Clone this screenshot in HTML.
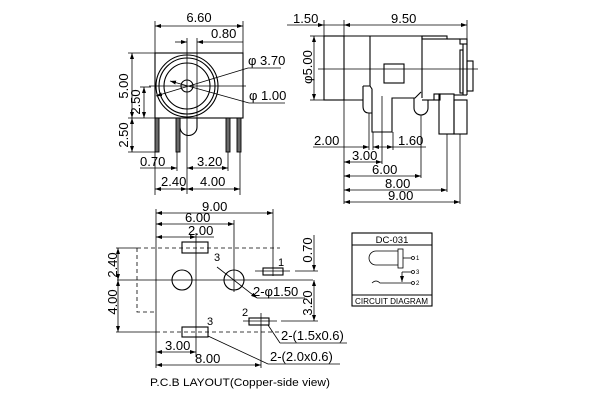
<!DOCTYPE html>
<html><head><meta charset="utf-8"><style>
html,body{margin:0;padding:0;background:#fff;width:600px;height:400px;overflow:hidden}
svg{display:block}
text{font-family:"Liberation Sans",Arial,sans-serif;font-size:13px;fill:#000}
</style></head><body>
<svg width="600" height="400" viewBox="0 0 600 400" xmlns="http://www.w3.org/2000/svg">
<defs>
<marker id="a" viewBox="0 0 6 4" refX="6" refY="2" markerWidth="6" markerHeight="4" markerUnits="userSpaceOnUse" orient="auto-start-reverse"><path d="M0,0 L6,2 L0,4 z" fill="#000"/></marker>
</defs>
<rect width="600" height="400" fill="#fff"/>
<g fill="none" stroke="#000" stroke-width="1.1">
<!-- TOP LEFT VIEW -->
<rect x="155" y="53" width="88" height="65"/>
<circle cx="187" cy="86" r="31"/>
<circle cx="187" cy="86" r="28"/>
<circle cx="187" cy="86" r="23"/>
<circle cx="187" cy="86" r="6"/>
<path d="M180,118 V127 A8.5,8.5 0 0 0 197,127 V118"/>
<g fill="#6a6a6a" stroke-width="0.9">
<rect x="155" y="118" width="4" height="34"/>
<rect x="176" y="118" width="4" height="34"/>
<rect x="226" y="118" width="4" height="34"/>
<rect x="237" y="118" width="4" height="34"/>
</g>
</g>
<g fill="none" stroke="#000" stroke-width="0.8">
<line x1="187" y1="38" x2="187" y2="194"/>
<line x1="149" y1="86" x2="246" y2="86"/>
<line x1="197" y1="38" x2="197" y2="118"/>
<!-- 6.60 -->
<line x1="155" y1="21" x2="155" y2="53"/>
<line x1="243" y1="21" x2="243" y2="53"/>
<line x1="155" y1="26" x2="243" y2="26" marker-start="url(#a)" marker-end="url(#a)"/>
<!-- 0.80 -->
<line x1="175" y1="42" x2="187" y2="42" marker-end="url(#a)"/>
<line x1="243" y1="42" x2="197" y2="42" marker-end="url(#a)"/>
<!-- phi leaders -->
<line x1="248" y1="68" x2="156" y2="96" marker-end="url(#a)"/>
<line x1="248" y1="68" x2="281" y2="68"/>
<line x1="249" y1="103" x2="170" y2="81" marker-end="url(#a)"/>
<line x1="249" y1="103" x2="285" y2="103"/>
<!-- 5.00 / 2.50 -->
<line x1="128" y1="53" x2="155" y2="53"/>
<line x1="128" y1="118" x2="155" y2="118"/>
<line x1="128" y1="152" x2="155" y2="152"/>
<line x1="132" y1="53" x2="132" y2="118" marker-start="url(#a)" marker-end="url(#a)"/>
<line x1="132" y1="118" x2="132" y2="152" marker-start="url(#a)" marker-end="url(#a)"/>
<line x1="140" y1="87" x2="151" y2="87"/>
<line x1="144" y1="87" x2="144" y2="118" marker-start="url(#a)" marker-end="url(#a)"/>
<!-- pin extension -->
<line x1="155" y1="152" x2="155" y2="195"/>
<line x1="177" y1="152" x2="177" y2="171"/>
<line x1="228" y1="152" x2="228" y2="171"/>
<line x1="240" y1="152" x2="240" y2="195"/>
<line x1="140" y1="168" x2="177" y2="168" marker-end="url(#a)"/>
<line x1="187" y1="168" x2="228" y2="168" marker-start="url(#a)" marker-end="url(#a)"/>
<line x1="155" y1="189" x2="187" y2="189" marker-start="url(#a)" marker-end="url(#a)"/>
<line x1="187" y1="189" x2="240" y2="189" marker-start="url(#a)" marker-end="url(#a)"/>
</g>
<g>
<text x="199" y="22" text-anchor="middle">6.60</text>
<text x="211" y="38">0.80</text>
<text x="248" y="65">φ 3.70</text>
<text x="249" y="100">φ 1.00</text>
<text transform="translate(128,86) rotate(-90)" text-anchor="middle">5.00</text>
<text transform="translate(140,102) rotate(-90)" text-anchor="middle">2.50</text>
<text transform="translate(128,135) rotate(-90)" text-anchor="middle">2.50</text>
<text x="140" y="166">0.70</text>
<text x="197" y="166">3.20</text>
<text x="161" y="186">2.40</text>
<text x="200" y="186">4.00</text>
</g>

<!-- TOP RIGHT VIEW -->
<g fill="none" stroke="#000" stroke-width="1.1">
<rect x="324" y="36" width="20" height="64"/>
<path d="M344,36 H422 V98"/>
<line x1="344" y1="100" x2="363" y2="100"/>
<line x1="370" y1="36" x2="370" y2="86"/>
<path d="M363,86 H370 L372,89 V132 H392 V98 H415 L421,92"/>
<path d="M363,86 V106 Q363,113 369,113 H372"/>
<path d="M414,98 V108 A7,7 0 0 0 428,108 V100"/>
<line x1="422" y1="100" x2="434" y2="100"/>
<rect x="384" y="64" width="20" height="19"/>
<rect x="422" y="36" width="25" height="3"/>
<line x1="447" y1="39" x2="460" y2="39"/>
<rect x="460" y="39" width="7" height="5"/>
<line x1="467" y1="44" x2="467" y2="95"/>
<line x1="463" y1="44" x2="463" y2="95"/>
<rect x="460" y="50" width="3" height="43"/>
<rect x="467" y="61" width="6" height="30"/>
<line x1="454" y1="95" x2="467" y2="95"/>
<rect x="434" y="94" width="6" height="6"/>
<rect x="439" y="94" width="15" height="40"/>
<rect x="454" y="100" width="13" height="34"/>
</g>
<g fill="none" stroke="#000" stroke-width="0.8">
<line x1="318" y1="69" x2="478" y2="69"/>
<line x1="324" y1="20" x2="324" y2="36"/>
<line x1="344" y1="20" x2="344" y2="36"/>
<line x1="467" y1="20" x2="467" y2="39"/>
<line x1="287" y1="25" x2="324" y2="25" marker-end="url(#a)"/>
<line x1="324" y1="25" x2="344" y2="25"/>
<line x1="344" y1="25" x2="467" y2="25" marker-start="url(#a)" marker-end="url(#a)"/>
<line x1="310" y1="36" x2="324" y2="36"/>
<line x1="310" y1="100" x2="324" y2="100"/>
<line x1="314" y1="36" x2="314" y2="100" marker-start="url(#a)" marker-end="url(#a)"/>
<line x1="344" y1="100" x2="344" y2="204"/>
<line x1="369" y1="113" x2="369" y2="150"/>
<line x1="373" y1="132" x2="373" y2="150"/>
<line x1="382" y1="96" x2="382" y2="164"/>
<line x1="393" y1="132" x2="393" y2="150"/>
<line x1="421" y1="115" x2="421" y2="178"/>
<line x1="447" y1="134" x2="447" y2="192"/>
<line x1="460" y1="134" x2="460" y2="204"/>
<line x1="313" y1="147" x2="369" y2="147" marker-end="url(#a)"/>
<line x1="373" y1="147" x2="393" y2="147" marker-start="url(#a)" marker-end="url(#a)"/>
<line x1="393" y1="147" x2="426" y2="147"/>
<line x1="344" y1="162" x2="382" y2="162" marker-start="url(#a)" marker-end="url(#a)"/>
<line x1="344" y1="176" x2="421" y2="176" marker-start="url(#a)" marker-end="url(#a)"/>
<line x1="344" y1="190" x2="447" y2="190" marker-start="url(#a)" marker-end="url(#a)"/>
<line x1="344" y1="202" x2="460" y2="202" marker-start="url(#a)" marker-end="url(#a)"/>
</g>
<g>
<text x="293" y="23">1.50</text>
<text x="391" y="23">9.50</text>
<text transform="translate(312,67) rotate(-90)" text-anchor="middle">φ5.00</text>
<text x="314" y="145">2.00</text>
<text x="352" y="160">3.00</text>
<text x="398" y="145">1.60</text>
<text x="372" y="174">6.00</text>
<text x="385" y="188">8.00</text>
<text x="388" y="200">9.00</text>
</g>

<!-- PCB LAYOUT -->
<g fill="none" stroke="#000" stroke-width="0.8">
<line x1="156" y1="209" x2="156" y2="368"/>
<line x1="273" y1="209" x2="273" y2="276"/>
<line x1="234" y1="220" x2="234" y2="292"/>
<line x1="196" y1="233" x2="196" y2="357"/>
<line x1="156" y1="213" x2="273" y2="213" marker-start="url(#a)" marker-end="url(#a)"/>
<line x1="156" y1="224" x2="234" y2="224" marker-start="url(#a)" marker-end="url(#a)"/>
<line x1="156" y1="237" x2="196" y2="237" marker-start="url(#a)" marker-end="url(#a)"/>
<line x1="196" y1="237" x2="214" y2="237"/>
<g stroke-dasharray="4,3">
<path d="M137,248 H280"/>
<path d="M137,248 V312 H156"/>
<path d="M156,332 H280"/>
</g>
<line x1="117" y1="280" x2="313" y2="280"/>
<line x1="116" y1="248" x2="137" y2="248"/>
<line x1="116" y1="332" x2="156" y2="332"/>
<line x1="118" y1="248" x2="118" y2="280" marker-start="url(#a)" marker-end="url(#a)"/>
<line x1="118" y1="280" x2="118" y2="332" marker-start="url(#a)" marker-end="url(#a)"/>
<line x1="255" y1="271" x2="290" y2="271"/>
<line x1="295" y1="271" x2="318" y2="271"/>
<line x1="243" y1="321" x2="277" y2="321"/>
<line x1="281" y1="321" x2="318" y2="321"/>
<line x1="261" y1="313" x2="261" y2="368"/>
<line x1="314" y1="235" x2="314" y2="271" marker-end="url(#a)"/>
<line x1="314" y1="280" x2="314" y2="321" marker-start="url(#a)" marker-end="url(#a)"/>
<line x1="217" y1="267" x2="257" y2="298" marker-end="url(#a)"/>
<line x1="257" y1="298" x2="305" y2="298"/>
<line x1="268" y1="325" x2="280" y2="343"/>
<line x1="280" y1="343" x2="347" y2="343"/>
<line x1="208" y1="336" x2="268" y2="364"/>
<line x1="268" y1="364" x2="340" y2="364"/>
<line x1="156" y1="352" x2="196" y2="352" marker-start="url(#a)" marker-end="url(#a)"/>
<line x1="156" y1="365" x2="261" y2="365" marker-start="url(#a)" marker-end="url(#a)"/>
</g>
<g fill="none" stroke="#000" stroke-width="1.1">
<circle cx="182" cy="280" r="10"/>
<circle cx="234" cy="280" r="10"/>
<rect x="182" y="242" width="26" height="11"/>
<rect x="182" y="327" width="26" height="10"/>
<rect x="263" y="268" width="20" height="7"/>
<rect x="249" y="318" width="20" height="7"/>
</g>
<g>
<text x="202" y="211">9.00</text>
<text x="185" y="222">6.00</text>
<text x="188" y="235">2.00</text>
<text transform="translate(117,265) rotate(-90)" text-anchor="middle">2.40</text>
<text transform="translate(117,302) rotate(-90)" text-anchor="middle">4.00</text>
<text transform="translate(312,250) rotate(-90)" text-anchor="middle">0.70</text>
<text transform="translate(312,303) rotate(-90)" text-anchor="middle">3.20</text>
<text x="214" y="261" style="font-size:11px">3</text>
<text x="278" y="266" style="font-size:11px">1</text>
<text x="242" y="316" style="font-size:11px">2</text>
<text x="207" y="325" style="font-size:11px">3</text>
<text x="253" y="296">2-φ1.50</text>
<text x="281" y="340">2-(1.5x0.6)</text>
<text x="270" y="361">2-(2.0x0.6)</text>
<text x="165" y="350">3.00</text>
<text x="195" y="363">8.00</text>
<text x="150" y="386" style="font-size:11px" textLength="180" lengthAdjust="spacingAndGlyphs">P.C.B LAYOUT(Copper-side view)</text>
</g>

<!-- CIRCUIT DIAGRAM -->
<g fill="none" stroke="#000" stroke-width="1.1">
<rect x="352" y="233" width="80" height="73"/>
<line x1="352" y1="245" x2="432" y2="245"/>
<line x1="352" y1="295" x2="432" y2="295"/>
</g>
<g fill="none" stroke="#000" stroke-width="0.8">
<path d="M398,251 H376 A7,7 0 0 0 376,265 H398"/>
<rect x="398" y="249" width="5" height="19"/>
<line x1="403" y1="258" x2="411" y2="258"/>
<circle cx="413" cy="258" r="1.5"/>
<line x1="402" y1="272" x2="411" y2="272"/>
<circle cx="413" cy="272" r="1.5"/>
<line x1="402" y1="272" x2="402" y2="282" marker-end="url(#a)"/>
<path d="M372,283 Q376,279 380,283 H411"/>
<circle cx="413" cy="283" r="1.5"/>
</g>
<g>
<text x="392" y="243" text-anchor="middle" style="font-size:9.5px">DC-031</text>
<text x="416" y="260" style="font-size:6px">1</text>
<text x="416" y="274" style="font-size:6px">3</text>
<text x="416" y="285" style="font-size:6px">2</text>
<text x="355" y="304" style="font-size:8px" textLength="73" lengthAdjust="spacingAndGlyphs">CIRCUIT DIAGRAM</text>
</g>
</svg>
</body></html>
